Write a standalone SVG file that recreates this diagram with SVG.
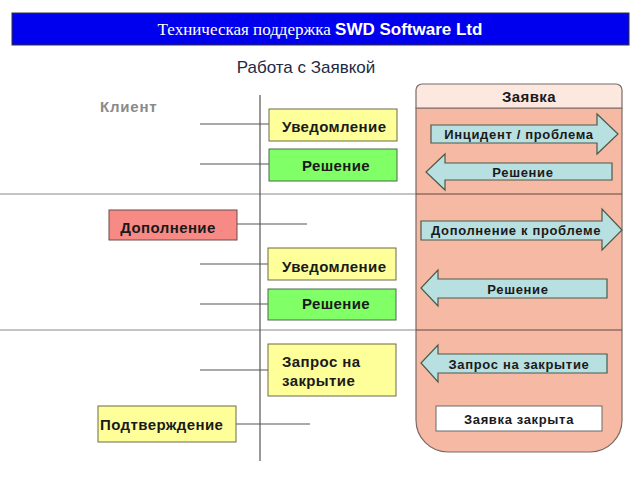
<svg xmlns="http://www.w3.org/2000/svg" width="640" height="480" viewBox="0 0 640 480">
<defs>
<style>
.t{font-family:"Liberation Sans",Arial,sans-serif;font-weight:bold;font-size:15px;letter-spacing:0.4px;fill:#1a1a1a}
.s{font-size:13px;letter-spacing:0.65px}
.c{text-anchor:middle}
.yel{fill:#ffff99;stroke:#6b6b4a;stroke-width:1}
.grn{fill:#80ff66;stroke:#4a6b4a;stroke-width:1}
.arr{fill:#b9e0e0;stroke:#4a5a4a;stroke-width:1.2}
.ln{stroke:#555;stroke-width:1.2;fill:none}
.sep{stroke:#b0b0b0;stroke-width:1.5;fill:none}
</style>
</defs>
<rect width="640" height="480" fill="#ffffff"/>
<g id="title">
<rect x="12" y="13" width="617" height="32" fill="#0000ee" stroke="#333" stroke-width="1"/>
<text x="320" y="35" text-anchor="middle" fill="#ffffff" font-size="17"><tspan font-family="'Liberation Serif','Times New Roman',serif">Техническая поддержка </tspan><tspan font-family="'Liberation Sans',Arial,sans-serif" font-weight="bold">SWD Software Ltd</tspan></text>
</g>
<text id="subtitle" x="306" y="73" text-anchor="middle" font-family="'Liberation Sans',Arial,sans-serif" font-size="17" fill="#1f2a44">Работа с Заявкой</text>
<text id="client" x="100" y="112" class="t" style="fill:#8a8a8a;letter-spacing:0.8px">Клиент</text>

<g id="separators">
<line x1="0" y1="194" x2="416" y2="194" class="sep"/>
<line x1="0" y1="330" x2="416" y2="330" class="sep"/>
</g>

<g id="zayavka-box">
<path d="M416,108 H622 V420 A32,32 0 0 1 590,452 H448 A32,32 0 0 1 416,420 Z" fill="#f6b9a3" stroke="#7a6a66" stroke-width="1.2"/>
<line x1="416" y1="194" x2="622" y2="194" stroke="#5a4a46" stroke-width="1.2"/>
<line x1="416" y1="330" x2="622" y2="330" stroke="#5a4a46" stroke-width="1.2"/>
<path d="M422,84 H616 A6,6 0 0 1 622,90 V108 H416 V90 A6,6 0 0 1 422,84 Z" fill="#fde8e0" stroke="#7a6a66" stroke-width="1.2"/>
<text x="529" y="102" class="t c">Заявка</text>
</g>

<g id="connectors">
<line x1="260" y1="95" x2="260" y2="461" class="ln"/>
<line x1="200" y1="124" x2="269" y2="124" class="ln"/>
<line x1="200" y1="164" x2="269" y2="164" class="ln"/>
<line x1="237" y1="224" x2="307" y2="224" class="ln"/>
<line x1="200" y1="264" x2="268" y2="264" class="ln"/>
<line x1="200" y1="304" x2="268" y2="304" class="ln"/>
<line x1="200" y1="370" x2="268" y2="370" class="ln"/>
<line x1="236" y1="424" x2="310" y2="424" class="ln"/>
</g>

<g id="n-uved1"><rect x="269" y="109" width="128" height="32" class="yel"/><text x="282" y="132" class="t">Уведомление</text></g>
<g id="n-resh1"><rect x="269" y="149" width="128" height="32" class="grn"/><text x="336" y="171" class="t c">Решение</text></g>
<g id="n-dop"><rect x="109" y="210" width="128" height="30" fill="#f88a86" stroke="#6b4a4a"/><text x="168" y="233" class="t c">Дополнение</text></g>
<g id="n-uved2"><rect x="268" y="248" width="128" height="32" class="yel"/><text x="282" y="272" class="t">Уведомление</text></g>
<g id="n-resh2"><rect x="268" y="289" width="128" height="31" class="grn"/><text x="336" y="309" class="t c">Решение</text></g>
<g id="n-zapros"><rect x="268" y="344" width="128" height="52" class="yel"/><text x="282" y="367" class="t">Запрос на</text><text x="282" y="386" class="t">закрытие</text></g>
<g id="n-podtv"><rect x="98" y="406" width="138" height="36" class="yel"/><text x="100" y="430" class="t">Подтверждение</text></g>

<g id="a-incident"><path d="M431,125 H597 V114 L618,134 L597,154 V143 H431 Z" class="arr"/><text x="519" y="139" class="t s c">Инцидент / проблема</text></g>
<g id="a-resh1"><path d="M612,163 H445 V154 L426,172 L445,190 V180 H612 Z" class="arr"/><text x="523" y="177" class="t s c">Решение</text></g>
<g id="a-dop"><path d="M421,221 H602 V209 L622,230 L602,250 V240 H421 Z" class="arr"/><text x="516" y="235" class="t s c">Дополнение к проблеме</text></g>
<g id="a-resh2"><path d="M607,279 H438 V270 L421,288 L438,306 V298 H607 Z" class="arr"/><text x="518" y="294" class="t s c">Решение</text></g>
<g id="a-zapros"><path d="M607,354 H438 V345 L421,363 L438,382 V373 H607 Z" class="arr"/><text x="519" y="369" class="t s c">Запрос на закрытие</text></g>
<g id="n-closed"><rect x="436" y="406" width="166" height="25" fill="#ffffff" stroke="#6b6b6b"/><text x="519" y="424" class="t s c">Заявка закрыта</text></g>
</svg>
